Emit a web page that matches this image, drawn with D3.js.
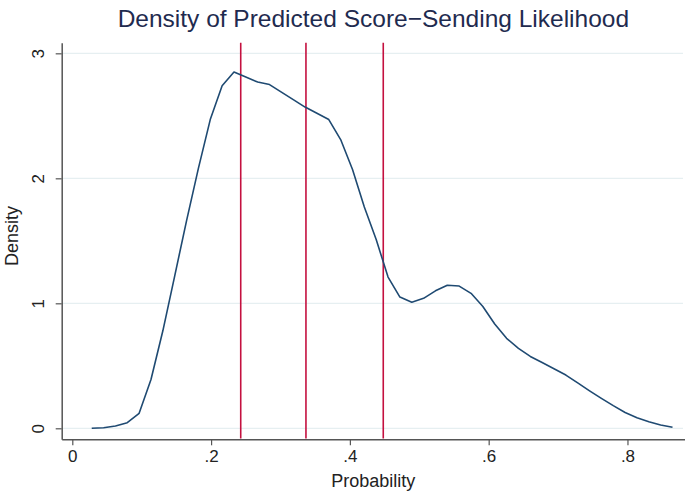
<!DOCTYPE html>
<html>
<head>
<meta charset="utf-8">
<script src="https://cdn.jsdelivr.net/npm/d3@7"></script>
<style>
  body { margin: 0; background: #fff; }
  svg { display: block; font-family: "Liberation Sans", Arial, Helvetica, sans-serif; }
</style>
</head>
<body>
<div id="chart"></div>
<script>
// kdensity evaluation grid (50 points) and estimated density
var probGrid = [.028, .0451, .0622, .0792, .0963, .1134, .1305, .1476, .1646, .1817,
  .1988, .2159, .2330, .2500, .2671, .2842, .3013, .3184, .3354, .3525,
  .3696, .3867, .4038, .4208, .4379, .4550, .4721, .4892, .5062, .5233,
  .5404, .5575, .5746, .5916, .6087, .6258, .6429, .6600, .6770, .6941,
  .7112, .7283, .7454, .7624, .7795, .7966, .8137, .8308, .8478, .8649];
var density = [0, .005, .018, .045, .12, .39, .78, 1.22, 1.66, 2.08,
  2.47, 2.74, 2.85, 2.81, 2.77, 2.75, 2.69, 2.63, 2.57, 2.52,
  2.47, 2.31, 2.07, 1.77, 1.51, 1.21, 1.05, 1.008, 1.04, 1.10,
  1.145, 1.138, 1.08, .975, .835, .72, .64, .575, .526, .477,
  .426, .363, .30, .24, .181, .126, .085, .053, .026, .008];
// vertical reference lines
var cutoffs = [.2427, .3367, .4481];
var xTicks = [0, .2, .4, .6, .8];
var yTicks = [0, 1, 2, 3];

var width = 685;
var height = 492;
var plotL = 61.7, plotR = 685, plotT = 42.7, plotB = 439.3;

var svg = d3.select("#chart").append("svg")
    .attr("width", width)
    .attr("height", height);

var x = d3.scaleLinear().domain([-0.01527, 0.8829]).range([plotL, plotR]);
var y = d3.scaleLinear().domain([-0.088, 3.085]).range([plotB, plotT]);

// gridlines
svg.append("g").selectAll("line")
    .data(yTicks)
  .enter().append("line")
    .attr("x1", plotL).attr("x2", plotR - 2)
    .attr("y1", function(d) { return y(d); })
    .attr("y2", function(d) { return y(d); })
    .attr("stroke", "#e6eff1")
    .attr("stroke-width", 1.3);

// y axis
var yAxis = svg.append("g")
    .attr("transform", "translate(" + plotL + ",0)")
    .call(d3.axisLeft(y).tickValues(yTicks).tickSize(6).tickSizeOuter(0).tickFormat(d3.format("d")));
yAxis.select(".domain").attr("stroke", "#555").attr("stroke-width", 1.5);
yAxis.selectAll(".tick line").attr("stroke", "#555").attr("stroke-width", 1.2);
yAxis.selectAll(".tick text")
    .attr("transform", "rotate(-90)")
    .attr("x", 0).attr("y", -18)
    .attr("dy", "0")
    .attr("text-anchor", "middle")
    .attr("font-size", 17).attr("fill", "#222");

// x axis
var fmt = function(d) { return d === 0 ? "0" : d3.format(".1f")(d).replace(/^0/, ""); };
var xAxis = svg.append("g")
    .attr("transform", "translate(0," + plotB + ")")
    .call(d3.axisBottom(x).tickValues(xTicks).tickSize(6).tickSizeOuter(0).tickPadding(5).tickFormat(fmt));
xAxis.select(".domain").attr("stroke", "#555").attr("stroke-width", 1.5);
xAxis.selectAll(".tick line").attr("stroke", "#555").attr("stroke-width", 1.2);
xAxis.selectAll(".tick text").attr("font-size", 17).attr("fill", "#222");

// reference lines
svg.append("g").selectAll("line")
    .data(cutoffs)
  .enter().append("line")
    .attr("x1", function(d) { return x(d); })
    .attr("x2", function(d) { return x(d); })
    .attr("y1", plotT).attr("y2", plotB - 0.8)
    .attr("stroke", "#c4103f")
    .attr("stroke-width", 1.6);

// density curve
var line = d3.line()
    .x(function(d, i) { return x(probGrid[i]); })
    .y(function(d) { return y(d); });
svg.append("path")
    .datum(density)
    .attr("d", line)
    .attr("fill", "none")
    .attr("stroke", "#1f4a72")
    .attr("stroke-width", 1.6)
    .attr("stroke-linejoin", "round");

// titles
svg.append("text")
    .attr("x", (plotL + plotR) / 2).attr("y", 27)
    .attr("text-anchor", "middle")
    .attr("font-size", 24.5)
    .attr("fill", "#1f2b4f")
    .text("Density of Predicted Score\u2212Sending Likelihood");

svg.append("text")
    .attr("x", (plotL + plotR) / 2).attr("y", 487)
    .attr("text-anchor", "middle")
    .attr("font-size", 18).attr("fill", "#222")
    .text("Probability");

svg.append("text")
    .attr("transform", "translate(18," + 236 + ") rotate(-90)")
    .attr("text-anchor", "middle")
    .attr("font-size", 18).attr("fill", "#222")
    .text("Density");
</script>
</body>
</html>
